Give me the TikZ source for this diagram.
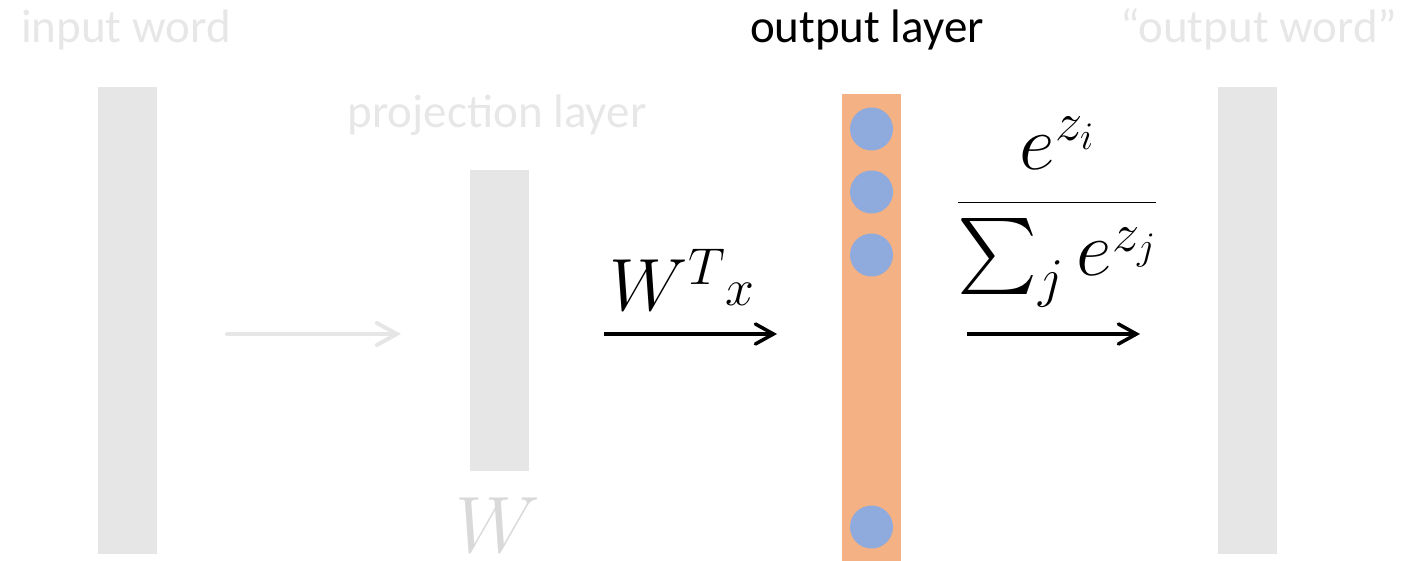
\RequirePackage{fix-cm}
\documentclass[tikz,border=0pt]{standalone}
\usepackage{amsmath}
\usepackage{fontspec}
\setmainfont{Carlito}
\usetikzlibrary{arrows.meta}
\definecolor{barg}{HTML}{E6E6E6}
\definecolor{txtg}{HTML}{E7E7E7}
\definecolor{mathg}{HTML}{D9D9D9}
\definecolor{orangebar}{HTML}{F4B183}
\definecolor{bluedot}{HTML}{8FAADC}
\font\bigsumfont=cmex10 at 76pt
\newcommand{\bigsumop}{\mathop{\vcenter{\hbox{\bigsumfont\char"50}}}\nolimits}
\begin{document}
\begin{tikzpicture}[x=1pt,y=-1pt,
  lbl/.style={anchor=base, font=\fontsize{47}{56}\selectfont, text=txtg, inner sep=0pt},
  bar/.style={fill=barg, draw=none, minimum width=59pt, inner sep=0pt, anchor=north west},
  dot/.style={circle, fill=bluedot, draw=none, minimum size=43pt, inner sep=0pt},
  garrow/.style={draw=barg, line width=4pt, line cap=round, -{Straight Barb[length=20pt,width=22pt,line cap=round]}},
  barrow/.style={draw=black, line width=3.5pt, -{Straight Barb[length=18pt,width=20pt,line cap=round]}},
  bigmath/.style={inner sep=0pt, anchor=base}
]
\useasboundingbox (0,0) rectangle (1406,561);
% labels
\node[lbl] (lin) at (126,43) {input word};
\node[lbl] (lproj) at (497,128) {projection layer};
\node[lbl, text=black] (lout) at (867,43) {output layer};
\node[lbl] (lword) at (1259,43) {“output word”};
% bars
\node[bar, minimum height=467pt] (inbar) at (98,87) {};
\node[bar, minimum height=301pt] (projbar) at (470,170) {};
\node[bar, fill=orangebar, minimum height=467pt] (outbar) at (842,94) {};
\node[bar, minimum height=467pt] (wordbar) at (1218,87) {};
% dots
\node[dot] (d1) at (871.5,129) {};
\node[dot] (d2) at (871.5,192) {};
\node[dot] (d3) at (871.5,255) {};
\node[dot] (d4) at (871.5,527) {};
% arrows
\coordinate (g1) at (227,334);
\coordinate (g2) at (401,334);
\coordinate (b1) at (604,334);
\coordinate (b2) at (777,334);
\coordinate (c1) at (967,334);
\coordinate (c2) at (1140,334);
\draw[garrow] (g1) -- (g2);
\draw[barrow] (b1) -- (b2);
\draw[barrow] (c1) -- (c2);
% math
\node[bigmath, text=mathg, font=\fontsize{80}{96}\selectfont] (wlab) at (498,552) {$W$};
\node[bigmath, font=\fontsize{74}{89}\selectfont] (wtx) at (682,311) {$W^{T}\raisebox{0.07em}{$\scriptstyle x$}$};
\node[bigmath, font=\fontsize{78}{94}\selectfont] (soft) at (1057,222) {$\dfrac{e^{z_i}}{\bigsumop_j e^{z_j}}$};
\end{tikzpicture}
\end{document}
